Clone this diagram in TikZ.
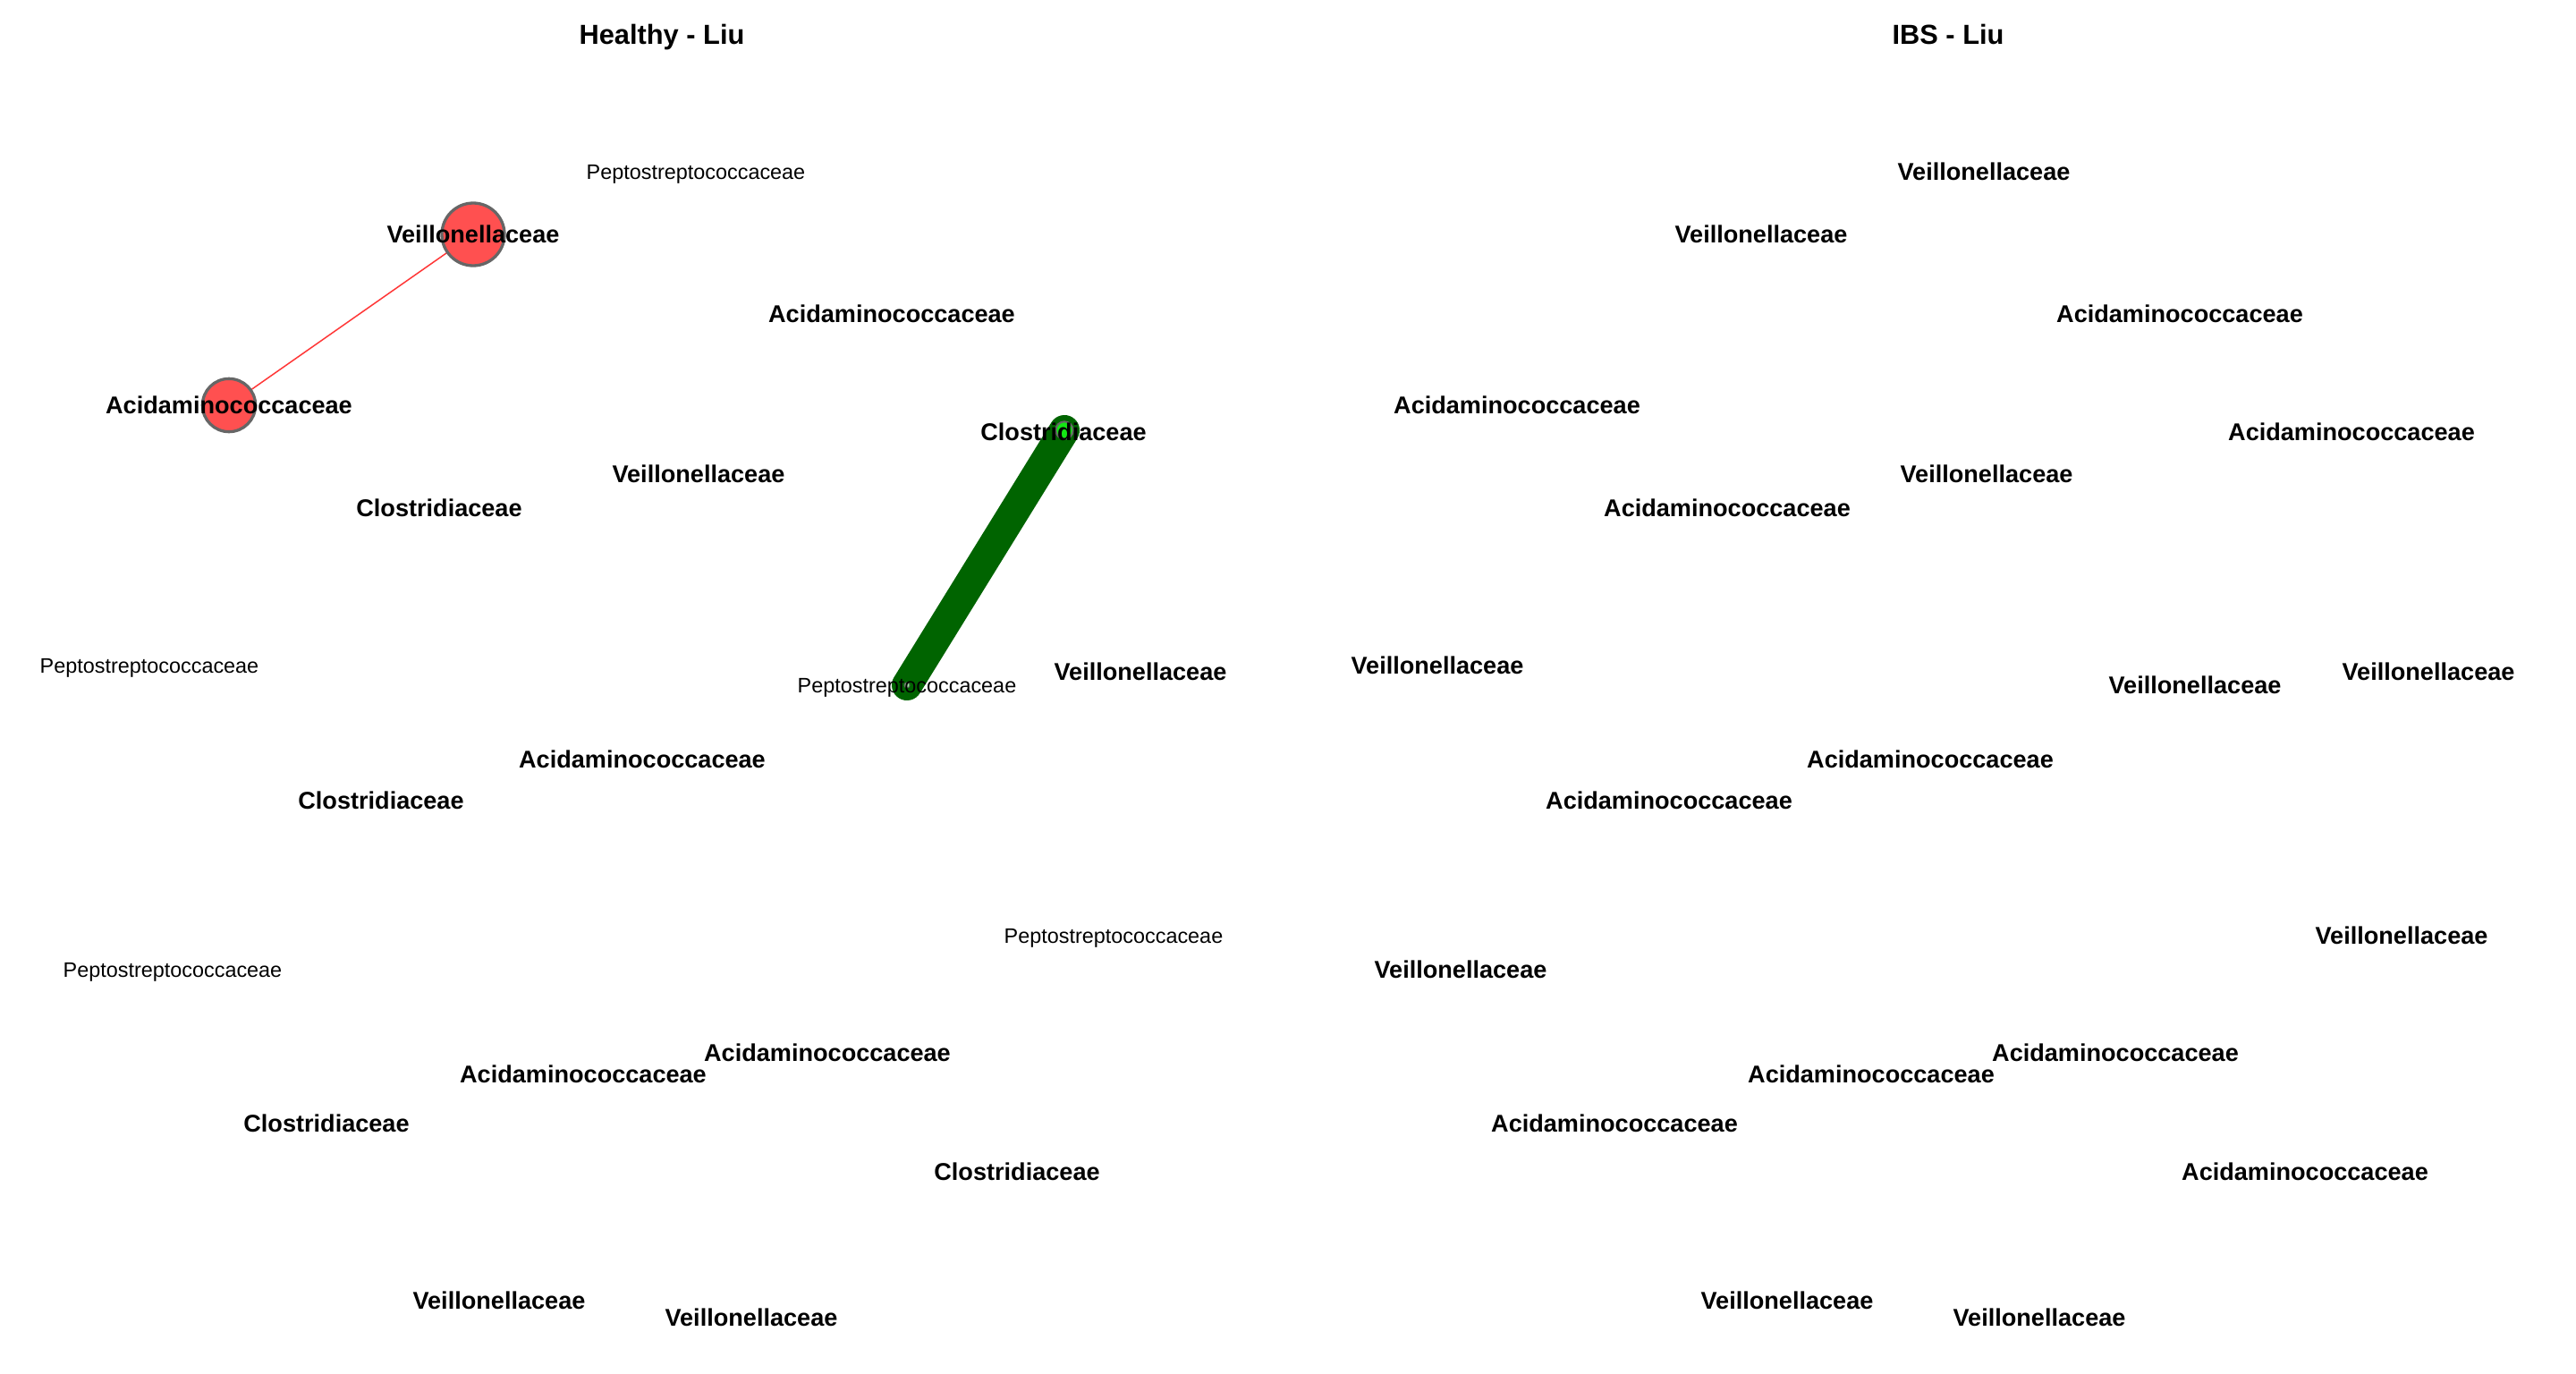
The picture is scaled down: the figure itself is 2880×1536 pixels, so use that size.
\documentclass[tikz,border=0pt]{standalone}
\usepackage{fontspec}
\setmainfont{Liberation Sans}
\definecolor{nodered}{RGB}{255,80,80}
\definecolor{edgered}{RGB}{255,55,55}
\definecolor{nodegray}{RGB}{102,102,102}
\definecolor{edgegreen}{RGB}{0,100,0}
\definecolor{nodegreen}{RGB}{20,230,20}
\tikzset{
  bl/.style={font=\fontsize{13.55}{14}\selectfont\bfseries, inner sep=0pt, text height=9.7pt, text depth=0pt},
  rl/.style={font=\fontsize{11.7}{12}\selectfont, inner sep=0pt, text height=8.38pt, text depth=0pt},
  ttl/.style={font=\fontsize{15.4}{16}\selectfont\bfseries, inner sep=0pt, text height=11.03pt, text depth=0pt},
  rednode/.style={circle, fill=nodered, draw=nodegray, line width=1.65pt, inner sep=0pt},
  greennode/.style={circle, fill=nodegreen, draw=nodegray, inner sep=0pt},
  rededge/.style={draw=edgered, line width=0.75pt},
  greenedge/.style={draw=edgegreen, line width=17pt, line cap=round},
}
\begin{document}
\begin{tikzpicture}[x=0.5pt, y=-0.5pt]
\useasboundingbox[fill=white] (0,0) rectangle (2880,1536);
% ---------- Healthy panel ----------
\coordinate (hV1) at (529,262);
\coordinate (hA1) at (256,453);
\coordinate (hC1) at (1190,481);
\coordinate (hP3) at (1014,766);
\draw[rededge] (hV1) -- (hA1);
\draw[greenedge] (hC1) -- (hP3);
\node[rednode, minimum size=35pt] (hV1n) at (hV1) {};
\node[rednode, minimum size=29.65pt] (hA1n) at (hA1) {};
\node[greennode, minimum size=9.7pt, line width=1pt] (hC1n) at (hC1) {};
\node[greennode, fill=nodegreen!40, minimum size=3pt, line width=0.5pt] (hP3n) at (hP3) {};

\node[ttl] (hT) at (740,38) {Healthy - Liu};
\node[rl] (hP1l) at (778,192) {Peptostreptococcaceae};
\node[bl] (hV1l) at (529,262) {Veillonellaceae};
\node[bl] (hA1l) at (256,453) {Acidaminococcaceae};
\node[bl] (hA2l) at (997,351) {Acidaminococcaceae};
\node[bl] (hC1l) at (1189,483) {Clostridiaceae};
\node[bl] (hV2l) at (781,530) {Veillonellaceae};
\node[bl] (hC2l) at (491,568) {Clostridiaceae};
\node[rl] (hP2l) at (167,744) {Peptostreptococcaceae};
\node[bl] (hV3l) at (1275,751) {Veillonellaceae};
\node[rl] (hP3l) at (1014,766) {Peptostreptococcaceae};
\node[bl] (hA3l) at (718,849) {Acidaminococcaceae};
\node[bl] (hC3l) at (426,895) {Clostridiaceae};
\node[rl] (hP4l) at (1245,1046) {Peptostreptococcaceae};
\node[rl] (hP5l) at (193,1084) {Peptostreptococcaceae};
\node[bl] (hA4l) at (925,1177) {Acidaminococcaceae};
\node[bl] (hA5l) at (652,1201) {Acidaminococcaceae};
\node[bl] (hC4l) at (365,1256) {Clostridiaceae};
\node[bl] (hC5l) at (1137,1310) {Clostridiaceae};
\node[bl] (hV4l) at (558,1454) {Veillonellaceae};
\node[bl] (hV5l) at (840,1473) {Veillonellaceae};
% ---------- IBS panel ----------
\begin{scope}[xshift=720pt]
\node[ttl] (iT) at (738,38) {IBS - Liu};
\node[bl] (iP1l) at (778,192) {Veillonellaceae};
\node[bl] (iV1l) at (529,262) {Veillonellaceae};
\node[bl] (iA1l) at (256,453) {Acidaminococcaceae};
\node[bl] (iA2l) at (997,351) {Acidaminococcaceae};
\node[bl] (iC1l) at (1189,483) {Acidaminococcaceae};
\node[bl] (iV2l) at (781,530) {Veillonellaceae};
\node[bl] (iC2l) at (491,568) {Acidaminococcaceae};
\node[bl] (iP2l) at (167,744) {Veillonellaceae};
\node[bl] (iV3l) at (1275,751) {Veillonellaceae};
\node[bl] (iP3l) at (1014,766) {Veillonellaceae};
\node[bl] (iA3l) at (718,849) {Acidaminococcaceae};
\node[bl] (iC3l) at (426,895) {Acidaminococcaceae};
\node[bl] (iP4l) at (1245,1046) {Veillonellaceae};
\node[bl] (iP5l) at (193,1084) {Veillonellaceae};
\node[bl] (iA4l) at (925,1177) {Acidaminococcaceae};
\node[bl] (iA5l) at (652,1201) {Acidaminococcaceae};
\node[bl] (iC4l) at (365,1256) {Acidaminococcaceae};
\node[bl] (iC5l) at (1137,1310) {Acidaminococcaceae};
\node[bl] (iV4l) at (558,1454) {Veillonellaceae};
\node[bl] (iV5l) at (840,1473) {Veillonellaceae};
\end{scope}
\end{tikzpicture}
\end{document}
